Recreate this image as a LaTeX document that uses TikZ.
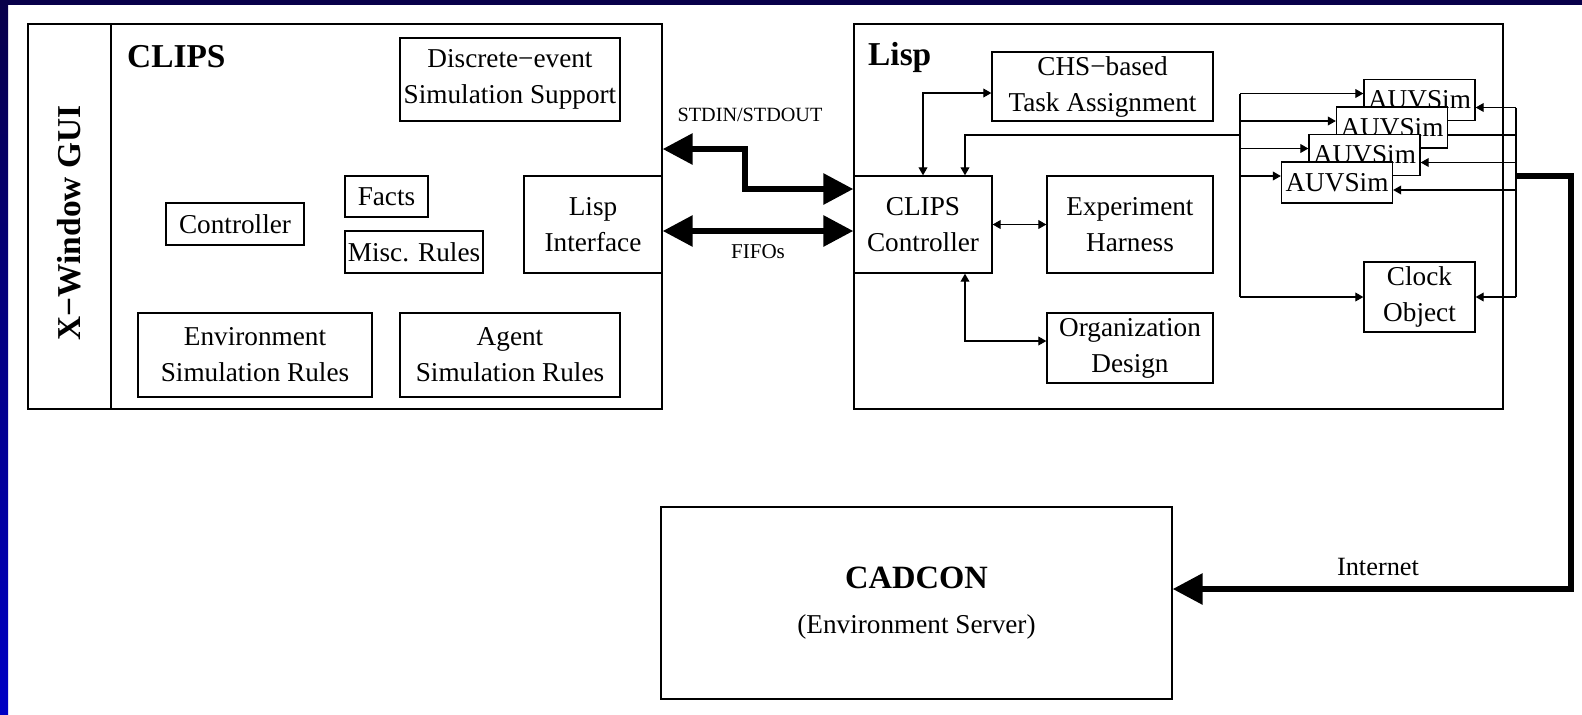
\documentclass[tikz,border=0pt]{standalone}
\usepackage{fontspec}
\setmainfont{Liberation Serif}
\usepackage{tikz}
\usetikzlibrary{arrows.meta}
\definecolor{topnavy}{RGB}{8,0,74}
\definecolor{sideblue}{RGB}{0,0,196}

\begin{document}
\begin{tikzpicture}[x=0.02cm,y=-0.02cm,
  box/.style={draw, line width=0.8pt, fill=white, inner sep=0pt, align=center,
    font=\fontsize{15.5}{20.5}\selectfont},
  title/.style={font=\fontsize{19}{22}\selectfont\bfseries},
  link/.style={line width=0.6pt, >={Triangle[length=4.5pt,width=5pt]}, ->},
  biglink/.style={line width=3.4pt, >={Triangle[length=17pt,width=17pt]}, ->}]
\useasboundingbox (0,0) rectangle (1582,714);
\fill[white] (0,0) rectangle (1582,714);
\shade[top color=topnavy, bottom color=sideblue] (0,0) rectangle (8,714);
\fill[topnavy] (0,0) rectangle (1582,5);

% CLIPS side
\node[box, minimum width=1.66cm, minimum height=7.7cm] (gui) at (69.5,216.5) {};
\node[title, rotate=90] (guitext) at ([yshift=-0.13cm]gui.center) {X−Window GUI};
\node[box, minimum width=11.02cm, minimum height=7.7cm] (clips) at (386.5,216.5) {};
\node[title, anchor=base west] (clipstext) at (121,67) {CLIPS};
\node[box, minimum width=4.4cm, minimum height=1.66cm] (des) at (510,79.5) {Discrete−event\\Simulation Support};
\node[box, minimum width=2.76cm, minimum height=0.84cm] (ctrl) at (235,224) {Controller};
\node[box, minimum width=1.66cm, minimum height=0.82cm] (facts) at (386.5,196.5) {Facts};
\node[box, minimum width=2.76cm, minimum height=0.84cm] (misc) at (414,252) {Misc. Rules};
\node[box, minimum width=2.76cm, minimum height=1.94cm] (lispif) at (593,224.5) {Lisp\\Interface};
\node[box, minimum width=4.68cm, minimum height=1.68cm] (env) at (255,355) {Environment\\Simulation Rules};
\node[box, minimum width=4.4cm, minimum height=1.68cm] (agent) at (510,355) {Agent\\Simulation Rules};

% Lisp side
\node[box, minimum width=12.98cm, minimum height=7.7cm] (lisp) at (1178.5,216.5) {};
\node[title, anchor=base west] (lisptext) at (862,65) {Lisp};
\node[box, minimum width=4.42cm, minimum height=1.38cm] (chs) at (1102.5,86.5) {CHS−based\\Task Assignment};
\node[box, minimum width=2.76cm, minimum height=1.94cm] (cc) at (923,224.5) {CLIPS\\Controller};
\node[box, minimum width=3.32cm, minimum height=1.94cm] (exp) at (1130,224.5) {Experiment\\Harness};
\node[box, minimum width=3.32cm, minimum height=1.4cm] (org) at (1130,348) {Organization\\Design};
\node[box, minimum width=2.22cm, minimum height=1.4cm] (clock) at (1419.5,297) {Clock\\Object};
\node[box, minimum width=2.22cm, minimum height=0.82cm] (auv1) at (1419.5,100) {AUVSim};
\node[box, minimum width=2.22cm, minimum height=0.82cm] (auv2) at (1392,127.5) {AUVSim};
\node[box, minimum width=2.22cm, minimum height=0.82cm] (auv3) at (1364.5,155) {AUVSim};
\node[box, minimum width=2.22cm, minimum height=0.82cm] (auv4) at (1337,182.5) {AUVSim};

% server
\node[box, minimum width=10.22cm, minimum height=3.84cm] (cadcon) at (916.5,603)
  {{\fontsize{18.5}{22}\selectfont\bfseries CADCON}\\[5pt](Environment Server)};

\coordinate (busL) at (1240,93.5);
\coordinate (busR) at (1516,107.5);
\coordinate (back) at (1240,135);
\coordinate (net) at (1516,176);

% links inside Lisp
\draw[link, <->] (cc.north) |- ([yshift=-0.13cm]chs.west);
\draw[link] (back) -| ([xshift=0.84cm]cc.north);
\draw[link, <->] (cc.east) -- (exp.west);
\draw[link, <->] ([xshift=0.84cm]cc.south) |- ([yshift=0.14cm]org.west);
\draw[line width=0.6pt] (busL) -- (busL |- clock.west);
\draw[line width=0.6pt] (busR) -- (busR |- clock.east);
\foreach \n in {1,2,3,4}
  \draw[link] ([yshift=0.13cm]auv\n.west -| busL) -- ([yshift=0.13cm]auv\n.west);
\foreach \n in {1,3,4}
  \draw[link] ([yshift=-0.15cm]auv\n.east -| busR) -- ([yshift=-0.15cm]auv\n.east);
\draw[line width=0.6pt] ([yshift=-0.15cm]auv2.east -| busR) -- ([yshift=-0.15cm]auv2.east);
\draw[link] (clock.west -| busL) -- (clock.west);
\draw[link] (clock.east -| busR) -- (clock.east);

% thick links
\draw[biglink, <->] ([yshift=1.35cm]clips.east) -- ++(82,0) |- ([yshift=0.71cm]cc.west);
\draw[biglink, <->] ([yshift=-0.13cm]lispif.east) -- ([yshift=-0.13cm]cc.west);
\draw[biglink] (net) -- ++(55,0) |- ([yshift=0.28cm]cadcon.east);

\node[font=\fontsize{11.5}{13}\selectfont] (stdio) at (750,115) {STDIN/STDOUT};
\node[font=\fontsize{12}{14}\selectfont] (fifos) at (758,252) {FIFOs};
\node[font=\fontsize{15}{17}\selectfont] (inet) at (1378,567) {Internet};
\end{tikzpicture}
\end{document}
